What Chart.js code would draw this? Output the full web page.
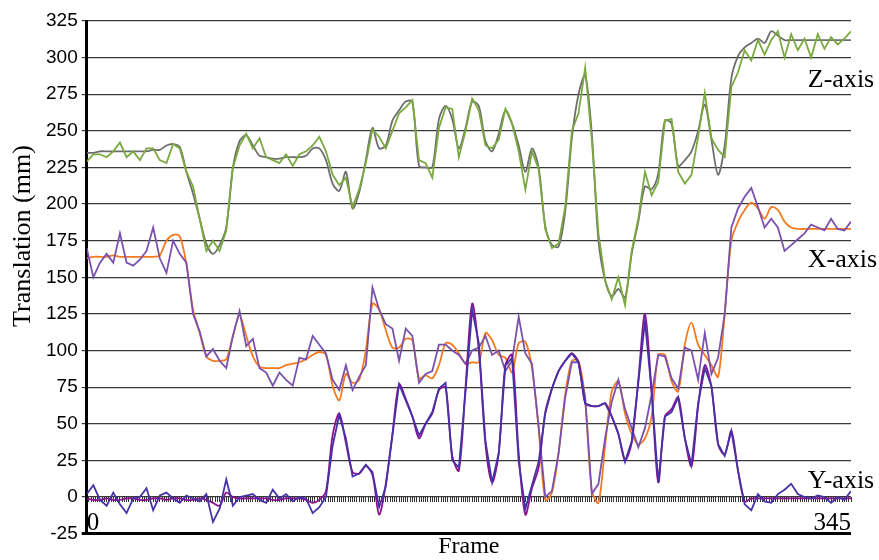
<!DOCTYPE html>
<html><head><meta charset="utf-8">
<script src="https://cdn.jsdelivr.net/npm/chart.js@4.4.1/dist/chart.umd.min.js"></script>
<style>html,body{margin:0;padding:0;background:#fff}</style>
</head><body>
<canvas id="c" width="879" height="560"></canvas>
<script>
// Frame numbers (sampled every 3 frames)
const frames = [
0,3,6,9,12,15,18,21,24,27,
30,33,36,39,42,45,48,51,54,57,
60,63,66,69,72,75,78,81,84,87,
90,93,96,99,102,105,108,111,114,117,
120,123,126,129,132,135,138,141,144,147,
150,153,156,159,162,165,168,171,174,177,
180,183,186,189,192,195,198,201,204,207,
210,213,216,219,222,225,228,231,234,237,
240,243,246,249,252,255,258,261,264,267,
270,273,276,279,282,285,288,291,294,297,
300,303,306,309,312,315,318,321,324,327,
330,333,336,339,342,345];

// Z-axis: smooth (gray) and measured (green)
const zSmooth = [
235,235,236,236,236,236,236,236,236,236,
237,237,240,241,239,222,207,190,173,166,
172,184,225,243,247,240,233,232,231,231,
232,232,232,233,238,238,230,214,209,222,
197,208,230,252,238,240,257,264,270,270,
226,225,225,258,267,258,238,252,270,267,
243,236,248,264,255,240,222,238,225,185,
172,171,195,245,275,288,248,175,148,137,
142,136,166,188,212,210,221,257,255,226,
230,236,250,268,244,220,240,286,301,307,
310,313,310,318,315,312,312,312,312,312,
312,312,312,312,312,312];
const zMeasured = [
229,234,234,232,236,242,232,236,230,238,
238,230,228,241,238,222,212,190,168,175,
168,182,225,240,248,238,245,232,230,228,
234,226,234,236,240,246,236,220,213,218,
198,210,228,251,246,238,250,262,266,271,
230,228,218,252,266,265,232,250,272,264,
240,238,244,265,255,236,210,236,224,183,
170,173,198,250,262,293,244,180,148,135,
150,131,168,190,222,206,215,257,258,222,
214,220,246,276,245,237,232,280,290,305,
298,312,302,312,318,300,316,305,313,300,
316,306,314,309,313,318];

// X-axis: smooth (orange) and measured (purple)
const xSmooth = [
163,164,164,164,165,164,164,164,164,164,
164,165,175,179,178,159,128,112,96,93,
93,94,110,124,110,96,89,88,88,88,
90,91,92,94,97,99,97,76,66,84,
78,80,100,132,128,114,102,102,108,107,
81,83,81,90,105,104,98,91,92,92,
112,107,97,95,85,105,106,88,47,-2,
3,30,70,93,93,66,4,-4,35,72,
79,57,43,36,40,55,97,97,79,72,
104,119,104,97,90,82,125,175,188,196,
201,197,190,198,196,188,184,183,183,183,
183,183,183,183,183,183];
const xMeasured = [
170,150,160,166,160,180,160,158,162,168,
184,163,153,175,166,160,125,113,96,101,
93,88,110,127,103,108,88,85,76,85,
80,76,95,94,110,104,98,80,73,90,
73,82,90,143,128,118,115,93,115,110,
78,84,86,104,104,100,97,91,100,102,
110,97,100,86,93,123,98,91,48,0,
4,30,68,92,92,68,2,9,40,65,
80,60,47,34,47,70,97,96,81,74,
102,100,80,112,84,95,125,184,197,205,
211,198,184,190,184,168,172,176,180,186,
184,182,190,183,182,188];

// Y-axis: smooth (magenta) and measured (blue)
const ySmooth = [
-1,-2,-2,-1,-2,-2,-1,-1,-2,-2,
-1,-1,-2,-1,-1,-2,-2,-1,-2,-4,
-6,3,0,-1,-1,-1,-1,-1,-2,-2,
-1,-1,-1,-2,-4,-2,4,42,57,37,
17,16,21,15,-12,9,43,77,67,55,
40,50,57,73,75,28,18,75,132,100,
36,10,30,90,97,30,-12,6,20,58,
74,86,93,98,92,64,62,62,64,55,
43,25,37,80,125,72,10,55,60,68,
40,21,62,90,75,36,29,45,18,-3,
-1,-1,-1,-1,-1,-1,-1,-1,-1,-1,
-1,-1,-1,-1,-1,-1];
const yMeasured = [
2,8,-2,-6,3,-5,-11,-1,0,6,
-9,1,3,-1,-4,1,-1,-3,2,-17,
-8,12,-6,0,1,2,-2,-4,5,-1,
2,-3,0,-1,-11,-7,0,35,56,40,
14,16,22,17,-7,7,42,77,66,55,
42,50,58,74,78,25,20,72,128,105,
38,10,30,90,95,24,-8,8,24,57,
74,86,93,98,92,64,62,62,64,55,
43,24,38,78,120,72,10,55,58,68,
40,22,64,88,76,36,28,45,18,-5,
-9,2,-3,-4,2,5,9,2,0,-1,
1,0,-4,0,-2,4];

const seriesNames = ['Z-axis','X-axis','Y-axis'];
const edgeTickLabels = [0, 345];
const yAxisTitle = 'Translation (mm)';
const xAxisTitle = 'Frame';

const pts = arr => frames.map((f, i) => ({x: f, y: arr[i]}));

const textPlugin = {
  id: 'textPlugin',
  afterDraw(chart) {
    const {ctx, scales} = chart;
    const sx = scales.x, sy = scales.y;
    ctx.save();
    ctx.fillStyle = '#000';
    ctx.font = '26px "Liberation Serif"';
    ctx.textAlign = 'left';
    ctx.textBaseline = 'alphabetic';
    const anchorsY = [280, 157, 6];
    seriesNames.forEach((t, i) => {
      ctx.fillText(t, sx.getPixelForValue(325.5), sy.getPixelForValue(anchorsY[i]));
    });
    ctx.translate(23, 236);
    ctx.rotate(-Math.PI / 2);
    ctx.textAlign = 'center';
    ctx.textBaseline = 'middle';
    ctx.fillText(yAxisTitle, 0, 0);
    ctx.restore();
  }
};

const ds = (label, arr, color, order, tension) => ({
  label, data: pts(arr), borderColor: color, backgroundColor: color,
  borderWidth: 1.8, pointRadius: 0, fill: false, tension, order,
  xAxisID: 'x', yAxisID: 'y'
});

new Chart(document.getElementById('c'), {
  type: 'line',
  data: {
    datasets: [
      ds('Y measured', yMeasured, '#4632a6', 1, 0),
      ds('Y smooth', ySmooth, '#8e1190', 2, 0.3),
      ds('X measured', xMeasured, '#7a52ae', 3, 0),
      ds('X smooth', xSmooth, '#f47a20', 4, 0.3),
      ds('Z measured', zMeasured, '#7aa93f', 5, 0),
      ds('Z smooth', zSmooth, '#6e6e6e', 6, 0.3)
    ]
  },
  options: {
    responsive: false,
    animation: false,
    devicePixelRatio: 1,
    layout: { padding: { left: 42, right: 28, top: 21, bottom: 0 } },
    plugins: { legend: { display: false }, tooltip: { enabled: false } },
    scales: {
      x: {
        type: 'linear', min: 0, max: 345, position: { y: 0 },
        ticks: {
          stepSize: 1, autoSkip: false, maxRotation: 0, minRotation: 0, align: 'inner',
          padding: 6, color: '#000',
          font: { family: 'Liberation Serif', size: 25 },
          callback: v => edgeTickLabels.includes(v) ? String(v) : ''
        },
        grid: { drawOnChartArea: false, drawTicks: true, tickLength: 5, color: '#333', lineWidth: 1 },
        border: { display: false }
      },
      x2: {
        type: 'linear', position: 'bottom', min: 0, max: 345,
        ticks: { display: false },
        grid: { display: false, drawTicks: false },
        border: { display: false },
        title: { display: true, text: xAxisTitle, color: '#000', padding: 0,
                 font: { family: 'Liberation Serif', size: 24, lineHeight: 1.1 } }
      },
      y: {
        min: -25, max: 325,
        ticks: { stepSize: 25, color: '#000', padding: 4,
                 font: { family: 'Liberation Sans', size: 19 } },
        grid: {
          color: c => c.tick && c.tick.value === -25 ? '#000' : '#3a3a3a',
          lineWidth: c => c.tick && c.tick.value === -25 ? 3 : 1.2,
          drawTicks: true, tickLength: 5
        },
        border: { color: '#000', width: 3 }
      }
    }
  },
  plugins: [textPlugin]
});
</script>
</body></html>
